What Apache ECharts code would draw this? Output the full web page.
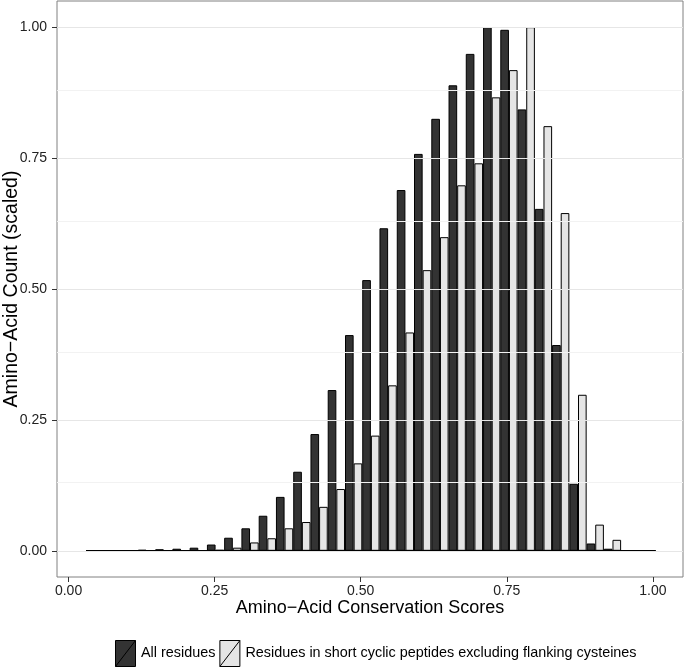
<!DOCTYPE html>
<html><head><meta charset="utf-8">
<script src="https://cdn.jsdelivr.net/npm/echarts@6/dist/echarts.min.js"></script>
<style>html,body{margin:0;padding:0;background:#fff}#c{width:685px;height:667px}</style>
</head><body><div id="c"></div>
<script>
// Bin centres of the conservation-score histogram
const binCenters = [0.0448,0.0743,0.1039,0.1334,0.1630,0.1925,0.2220,0.2516,0.2811,0.3106,0.3402,
  0.3697,0.3993,0.4288,0.4583,0.4879,0.5174,0.5469,0.5765,0.6060,0.6356,0.6651,0.6946,0.7242,
  0.7537,0.7833,0.8128,0.8423,0.8719,0.9014,0.9309,0.9605,0.9900];
// Scaled counts
const allResidues = [0,0.001,0.001,0.002,0.003,0.004,0.006,0.012,0.025,0.043,0.067,0.103,0.151,
  0.223,0.307,0.412,0.517,0.616,0.689,0.758,0.825,0.889,0.949,1.000,0.995,0.843,0.653,0.393,
  0.128,0.014,0.004,0,0];
const cyclicResidues = [0,0,0,0,0,0,0,0.002,0.006,0.016,0.024,0.043,0.055,0.084,0.118,0.167,
  0.220,0.316,0.417,0.536,0.599,0.698,0.740,0.866,0.918,1.000,0.811,0.645,0.298,0.050,0.021,0,0];
const histRange = [0.0300, 1.0048];
const xTicks = [0, 0.25, 0.5, 0.75, 1];
const yTicks = [0, 0.25, 0.5, 0.75, 1];
const yMinorGrid = [0.125, 0.375, 0.625, 0.875];
const seriesNames = ['All residues', 'Residues in short cyclic peptides excluding flanking cysteines'];
const xTitle = 'Amino\u2212Acid Conservation Scores';
const yTitle = 'Amino\u2212Acid Count (scaled)';

const FONT = 'Liberation Sans, Arial, Helvetica, sans-serif';
const chart = echarts.init(document.getElementById('c'), null, {renderer: 'canvas'});
const keyPath = 'path://M0,0 L20,0 L20,26 L0,26 Z M0,26 L20,0';

chart.setOption({
  animation: false,
  backgroundColor: '#fff',
  textStyle: {fontFamily: FONT},
  grid: {left: 57, right: 2, top: 1, bottom: 90, containLabel: false, outerBoundsMode: 'none',
    show: true, borderColor: '#808080', borderWidth: 1, backgroundColor: 'transparent'},
  legend: {
    top: 640, left: 115, padding: 0, itemWidth: 21, itemHeight: 26, itemGap: 4,
    textStyle: {fontSize: 14.4, color: '#000', fontFamily: FONT},
    itemStyle: {borderColor: '#000', borderWidth: 1},
    data: [{name: seriesNames[0], icon: keyPath}, {name: seriesNames[1], icon: keyPath}]
  },
  xAxis: {
    type: 'value', min: -0.0198, max: 1.0516,
    axisLine: {show: false, onZero: false},
    axisTick: {show: true, length: 5, customValues: xTicks, lineStyle: {color: '#333'}},
    axisLabel: {customValues: xTicks, fontSize: 14, color: '#222', margin: 7, formatter: v => v.toFixed(2)},
    splitLine: {show: false},
    name: xTitle, nameLocation: 'middle', nameGap: 22, nameMoveOverlap: false,
    nameTextStyle: {fontSize: 18, color: '#000', fontFamily: FONT}
  },
  yAxis: {
    type: 'value', min: -0.05, max: 1.05,
    axisLine: {show: false, onZero: false},
    axisTick: {show: true, length: 5, customValues: yTicks, lineStyle: {color: '#333'}},
    axisLabel: {customValues: yTicks, fontSize: 14, color: '#222', margin: 10, formatter: v => v.toFixed(2)},
    splitLine: {show: false},
    name: yTitle, nameLocation: 'middle', nameGap: 35, nameMoveOverlap: false,
    nameTextStyle: {fontSize: 19.5, color: '#000', fontFamily: FONT}
  },
  series: [
    {
      type: 'line', name: 'grid', data: [], silent: true, z: 0,
      markLine: {
        silent: true, symbol: ['none','none'], label: {show: false},
        data: yTicks.map(v => ({yAxis: v, lineStyle: {color: '#e6e6e6', width: 1, type: 'solid'}}))
          .concat(yMinorGrid.map(v => ({yAxis: v, lineStyle: {color: '#f2f2f2', width: 1, type: 'solid'}})))
      }
    },
    {
      type: 'bar', name: seriesNames[0], z: 2,
      data: binCenters.map((x, i) => [x, allResidues[i]]),
      barWidth: 8.64, barGap: '0%',
      itemStyle: {color: '#333333', borderColor: '#000', borderWidth: 1}
    },
    {
      type: 'bar', name: seriesNames[1], z: 2,
      data: binCenters.map((x, i) => [x, cyclicResidues[i]]),
      barWidth: 8.64, barGap: '0%',
      itemStyle: {color: '#e5e5e5', borderColor: '#000', borderWidth: 1}
    },
    {
      type: 'line', name: 'baseline', z: 3, silent: true, symbol: 'none',
      data: [[histRange[0], 0], [histRange[1], 0]],
      lineStyle: {color: '#000', width: 1.5}
    }
  ]
});
</script></body></html>
